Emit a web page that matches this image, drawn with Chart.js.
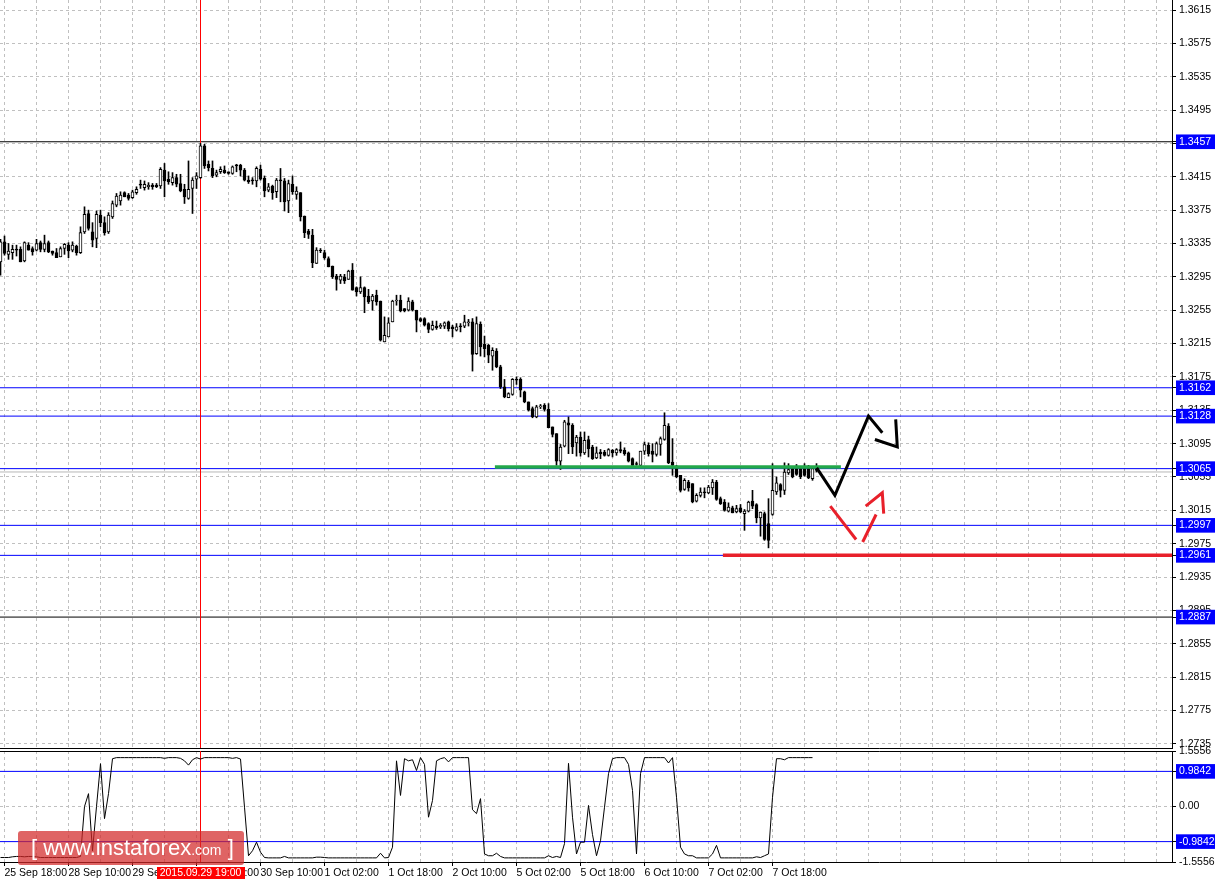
<!DOCTYPE html>
<html><head><meta charset="utf-8">
<script src="https://cdn.jsdelivr.net/npm/chart.js@4.4.0/dist/chart.umd.min.js"></script>
<style>
html,body{margin:0;padding:0;background:#fff;width:1215px;height:881px;overflow:hidden;position:relative}
canvas{position:absolute;left:0}
#main{top:0}
#ind{top:740px}
#wm{position:absolute;left:18px;top:831px;width:226px;height:34px;background:rgba(210,40,40,0.72);border-radius:3px;color:#fff;font-family:"Liberation Sans",Arial,sans-serif;white-space:nowrap;line-height:34px;padding-left:13px;box-sizing:border-box;font-size:22px}
#wm .c{font-size:14px}
</style></head><body>
<canvas id="main" width="1215" height="750"></canvas>
<canvas id="ind" width="1215" height="141"></canvas>
<div id="wm">[ www.instaforex<span class="c">.com</span> ]</div>
<script>
// ---- data (hourly candles; first candle is hour -1 relative to 25 Sep 18:00) ----
const startHour = -1;
const opens = [
1.3313,1.3337,1.3322,1.3324,1.3327,1.3328,1.3314,1.3333,1.3329,1.3327,
1.3336,1.3328,1.3336,1.3326,1.3324,1.3319,1.3329,1.3333,1.3327,1.3332,
1.3324,1.3349,1.3371,1.3349,1.3341,1.3369,1.3360,1.3349,1.3367,1.3381,
1.3386,1.3396,1.3393,1.3390,1.3396,1.3406,1.3402,1.3403,1.3405,1.3405,
1.3404,1.3423,1.3412,1.3408,1.3414,1.3407,1.3400,1.3389,1.3401,1.3412,
1.3414,1.3452,1.3430,1.3425,1.3417,1.3421,1.3423,1.3421,1.3419,1.3428,
1.3429,1.3423,1.3411,1.3410,1.3410,1.3424,1.3413,1.3399,1.3404,1.3397,
1.3410,1.3410,1.3386,1.3406,1.3394,1.3396,1.3368,1.3350,1.3345,1.3311,
1.3327,1.3324,1.3317,1.3308,1.3296,1.3291,1.3295,1.3292,1.3303,1.3282,
1.3277,1.3282,1.3272,1.3266,1.3273,1.3266,1.3217,1.3223,1.3241,1.3266,
1.3267,1.3257,1.3255,1.3265,1.3255,1.3245,1.3245,1.3239,1.3232,1.3236,
1.3235,1.3236,1.3241,1.3235,1.3231,1.3236,1.3236,1.3240,1.3241,1.3203,
1.3238,1.3214,1.3213,1.3200,1.3206,1.3187,1.3163,1.3150,1.3154,1.3171,
1.3172,1.3157,1.3145,1.3137,1.3127,1.3139,1.3141,1.3136,1.3115,1.3107,
1.3074,1.3092,1.3120,1.3117,1.3096,1.3103,1.3084,1.3100,1.3091,1.3078,
1.3085,1.3085,1.3081,1.3087,1.3084,1.3088,1.3087,1.3084,1.3077,1.3071,
1.3069,1.3086,1.3093,1.3086,1.3082,1.3094,1.3100,1.3116,1.3073,1.3065,
1.3057,1.3040,1.3049,1.3047,1.3026,1.3033,1.3037,1.3036,1.3042,1.3049,
1.3029,1.3025,1.3014,1.3018,1.3013,1.3018,1.3011,1.3014,1.3026,1.3022,
1.3006,1.3011,1.2999,1.3010,1.3037,1.3046,1.3039,1.3060,1.3065,1.3065,
1.3065,1.3065,1.3065,1.3053,1.3065];
const highs = [
1.3340,1.3344,1.3335,1.3333,1.3333,1.3331,1.3337,1.3336,1.3331,1.3340,
1.3338,1.3345,1.3338,1.3326,1.3329,1.3331,1.3335,1.3336,1.3337,1.3333,
1.3355,1.3379,1.3375,1.3360,1.3374,1.3375,1.3367,1.3372,1.3386,1.3395,
1.3397,1.3397,1.3395,1.3399,1.3403,1.3411,1.3410,1.3408,1.3407,1.3407,
1.3426,1.3431,1.3421,1.3420,1.3418,1.3418,1.3406,1.3434,1.3414,1.3420,
1.3455,1.3454,1.3434,1.3434,1.3423,1.3427,1.3428,1.3421,1.3428,1.3430,
1.3430,1.3425,1.3416,1.3414,1.3427,1.3429,1.3416,1.3407,1.3405,1.3413,
1.3425,1.3413,1.3411,1.3416,1.3403,1.3396,1.3368,1.3352,1.3352,1.3330,
1.3329,1.3327,1.3319,1.3308,1.3298,1.3298,1.3298,1.3303,1.3311,1.3283,
1.3295,1.3283,1.3280,1.3274,1.3279,1.3266,1.3247,1.3246,1.3267,1.3273,
1.3273,1.3257,1.3270,1.3267,1.3255,1.3246,1.3246,1.3240,1.3242,1.3242,
1.3239,1.3241,1.3242,1.3237,1.3239,1.3239,1.3249,1.3244,1.3245,1.3247,
1.3241,1.3224,1.3214,1.3210,1.3209,1.3189,1.3172,1.3156,1.3173,1.3175,
1.3174,1.3158,1.3145,1.3139,1.3141,1.3142,1.3143,1.3143,1.3115,1.3107,
1.3094,1.3123,1.3127,1.3119,1.3105,1.3109,1.3109,1.3104,1.3093,1.3091,
1.3088,1.3087,1.3089,1.3088,1.3089,1.3097,1.3090,1.3085,1.3078,1.3073,
1.3086,1.3097,1.3096,1.3095,1.3097,1.3103,1.3132,1.3119,1.3101,1.3069,
1.3057,1.3053,1.3051,1.3047,1.3035,1.3042,1.3042,1.3045,1.3052,1.3051,
1.3031,1.3028,1.3024,1.3020,1.3021,1.3022,1.3016,1.3026,1.3039,1.3023,
1.3013,1.3013,1.3029,1.3071,1.3055,1.3047,1.3072,1.3071,1.3067,1.3070,
1.3067,1.3071,1.3069,1.3067,1.3071];
const lows = [
1.3297,1.3321,1.3316,1.3316,1.3320,1.3313,1.3313,1.3327,1.3321,1.3326,
1.3325,1.3325,1.3324,1.3321,1.3318,1.3319,1.3322,1.3318,1.3325,1.3321,
1.3323,1.3347,1.3351,1.3331,1.3330,1.3355,1.3345,1.3347,1.3365,1.3379,
1.3381,1.3391,1.3387,1.3389,1.3394,1.3401,1.3399,1.3400,1.3400,1.3402,
1.3401,1.3391,1.3406,1.3405,1.3403,1.3397,1.3383,1.3388,1.3371,1.3401,
1.3413,1.3425,1.3422,1.3414,1.3415,1.3419,1.3419,1.3418,1.3418,1.3421,
1.3416,1.3410,1.3407,1.3406,1.3403,1.3411,1.3391,1.3397,1.3388,1.3390,
1.3385,1.3374,1.3372,1.3394,1.3388,1.3362,1.3342,1.3341,1.3306,1.3311,
1.3324,1.3316,1.3307,1.3293,1.3279,1.3287,1.3287,1.3292,1.3279,1.3272,
1.3275,1.3252,1.3263,1.3255,1.3261,1.3218,1.3217,1.3223,1.3241,1.3261,
1.3253,1.3253,1.3254,1.3254,1.3229,1.3241,1.3236,1.3228,1.3231,1.3232,
1.3233,1.3233,1.3230,1.3223,1.3230,1.3229,1.3234,1.3236,1.3182,1.3202,
1.3200,1.3199,1.3192,1.3183,1.3186,1.3161,1.3150,1.3150,1.3153,1.3166,
1.3151,1.3144,1.3134,1.3126,1.3126,1.3137,1.3134,1.3114,1.3103,1.3069,
1.3064,1.3091,1.3083,1.3083,1.3080,1.3080,1.3082,1.3079,1.3076,1.3077,
1.3077,1.3080,1.3080,1.3079,1.3081,1.3084,1.3081,1.3073,1.3069,1.3069,
1.3068,1.3082,1.3080,1.3073,1.3080,1.3081,1.3099,1.3071,1.3057,1.3054,
1.3037,1.3039,1.3038,1.3024,1.3025,1.3031,1.3030,1.3035,1.3034,1.3027,
1.3022,1.3014,1.3013,1.3012,1.3012,1.3012,1.2991,1.3013,1.3017,1.3000,
1.2984,1.2979,1.2970,1.3009,1.3034,1.3031,1.3034,1.3058,1.3054,1.3057,
1.3053,1.3056,1.3053,1.3051,1.3061];
const closes = [
1.3337,1.3323,1.3326,1.3328,1.3327,1.3313,1.3336,1.3327,1.3325,1.3335,
1.3328,1.3335,1.3325,1.3323,1.3318,1.3329,1.3334,1.3326,1.3333,1.3324,
1.3348,1.3370,1.3353,1.3339,1.3370,1.3360,1.3348,1.3369,1.3383,1.3392,
1.3393,1.3391,1.3389,1.3397,1.3400,1.3405,1.3406,1.3405,1.3403,1.3403,
1.3424,1.3410,1.3409,1.3414,1.3406,1.3398,1.3391,1.3400,1.3411,1.3416,
1.3452,1.3428,1.3426,1.3416,1.3420,1.3424,1.3420,1.3419,1.3427,1.3428,
1.3423,1.3411,1.3409,1.3410,1.3425,1.3412,1.3398,1.3403,1.3396,1.3411,
1.3410,1.3385,1.3407,1.3397,1.3398,1.3367,1.3348,1.3346,1.3312,1.3327,
1.3326,1.3318,1.3307,1.3295,1.3292,1.3296,1.3290,1.3302,1.3279,1.3277,
1.3282,1.3271,1.3265,1.3272,1.3265,1.3219,1.3225,1.3240,1.3266,1.3267,
1.3254,1.3254,1.3266,1.3255,1.3243,1.3242,1.3237,1.3232,1.3237,1.3234,
1.3237,1.3240,1.3233,1.3233,1.3235,1.3235,1.3241,1.3241,1.3202,1.3239,
1.3211,1.3209,1.3201,1.3207,1.3187,1.3163,1.3151,1.3155,1.3172,1.3171,
1.3159,1.3145,1.3135,1.3127,1.3139,1.3140,1.3136,1.3114,1.3106,1.3074,
1.3091,1.3121,1.3117,1.3091,1.3103,1.3084,1.3099,1.3089,1.3077,1.3084,
1.3083,1.3081,1.3088,1.3084,1.3088,1.3086,1.3083,1.3074,1.3069,1.3070,
1.3086,1.3094,1.3083,1.3082,1.3095,1.3101,1.3117,1.3072,1.3069,1.3055,
1.3039,1.3051,1.3042,1.3025,1.3033,1.3037,1.3036,1.3043,1.3049,1.3028,
1.3023,1.3015,1.3019,1.3012,1.3017,1.3013,1.3014,1.3025,1.3020,1.3006,
1.3013,1.2980,1.2979,1.3039,1.3048,1.3039,1.3061,1.3064,1.3055,1.3058,
1.3055,1.3057,1.3054,1.3065,1.3063];
const indicator = [
-1.43,-1.43,-1.43,-1.41,-1.40,-1.40,-1.41,-1.40,-1.40,-1.41,
-1.43,-1.43,-1.43,-1.43,-1.43,-1.43,-1.43,-1.43,-1.43,-1.43,
-1.40,0.00,0.36,-1.24,0.00,1.20,-0.34,0.36,1.34,1.37,
1.37,1.37,1.37,1.37,1.37,1.37,1.37,1.37,1.37,1.37,
1.37,1.35,1.37,1.37,1.37,1.35,1.28,1.16,1.31,1.37,
1.33,1.37,1.37,1.37,1.37,1.37,1.37,1.37,1.35,1.37,
1.33,-0.02,-1.38,-1.24,-1.00,-1.28,-1.43,-1.44,-1.44,-1.44,
-1.44,-1.40,-1.44,-1.44,-1.44,-1.44,-1.44,-1.44,-1.44,-1.42,
-1.42,-1.43,-1.44,-1.44,-1.44,-1.44,-1.44,-1.44,-1.44,-1.44,
-1.44,-1.44,-1.44,-1.44,-1.44,-1.31,-1.44,-1.43,-1.14,1.28,
0.31,1.34,1.28,1.31,1.01,1.37,1.18,-0.30,0.17,1.28,
1.34,1.37,1.25,1.37,1.37,1.37,1.37,1.37,-0.09,-0.20,
0.22,-1.33,-1.38,-1.38,-1.31,-1.40,-1.44,-1.44,-1.44,-1.44,
-1.44,-1.44,-1.44,-1.44,-1.44,-1.44,-1.44,-1.38,-1.43,-1.40,
-1.43,-1.04,1.21,-0.30,-1.33,-1.00,-1.00,0.03,-0.79,-1.38,
-0.96,-0.02,0.92,1.34,1.37,1.37,1.37,1.18,0.45,-1.33,
0.92,1.37,1.37,1.37,1.37,1.37,1.37,1.22,1.37,0.26,
-1.14,-1.33,-1.38,-1.38,-1.44,-1.44,-1.44,-1.44,-1.33,-1.09,
-1.44,-1.44,-1.44,-1.44,-1.44,-1.44,-1.44,-1.44,-1.44,-1.41,
-1.43,-1.38,-1.33,0.26,1.34,1.34,1.31,1.37,1.37,1.37,
1.37,1.37,1.37,1.37];

const timeLabels = ['25 Sep 18:00','28 Sep 10:00','29 Sep 02:00','29 Sep 18:00','30 Sep 10:00','1 Oct 02:00','1 Oct 18:00','2 Oct 10:00','5 Oct 02:00','5 Oct 18:00','6 Oct 10:00','7 Oct 02:00','7 Oct 18:00'];
const priceTickLabels = ['1.3615','1.3575','1.3535','1.3495','1.3455','1.3415','1.3375','1.3335','1.3295','1.3255','1.3215','1.3175','1.3135','1.3095','1.3055','1.3015','1.2975','1.2935','1.2895','1.2855','1.2815','1.2775','1.2735'];
const levelLabels = ['1.3457','1.3162','1.3128','1.3065','1.2997','1.2961','1.2887'];
const levelKinds = ['black','blue','blue','blue','blue','blue','black'];
const bidPrice = 1.3061;
const indTickLabels = ['1.5556','0.00','-1.5556'];
const indLevelLabels = ['0.9842','-0.9842'];
const markerHour = 49;
const markerLabel = '2015.09.29 19:00';
// drawn analysis marks (hour, price)
const supportHours = [122.6, 209.1];
const supportPrices = [1.3067, 1.3067];
const redLevelHours = [179.6, 292];
const redLevelPrices = [1.2961, 1.2961];
const blackPathHours = [203.05, 207.6, 216.0, 219.45];
const blackPathPrices = [1.3066, 1.3033, 1.3128, 1.3108];
const blackHookHours = [217.6, 223.2, 222.8];
const blackHookPrices = [1.3100, 1.3091, 1.3124];
const redPath1Hours = [206.45, 212.9];
const redPath1Prices = [1.3020, 1.2980];
const redPath2Hours = [214.55, 217.9];
const redPath2Prices = [1.2977, 1.3010];
const redHookHours = [215.3, 219.45, 219.8];
const redHookPrices = [1.3020, 1.3036, 1.3011];

// ---- layout / style ----
const X_MIN = -1.125, X_MAX = 291.875, GRID_STEP = 8;
const PRICE_MIN = 1.2730, PRICE_MAX = 1.3627;
const IND_MIN = -1.5556, IND_MAX = 1.5556;
const AXIS_W = 43;
const FONT = { family: '"Liberation Sans Narrow","Liberation Sans",Arial,sans-serif', size: 10.5 };
const GRID_COLOR = '#c0c0c0';
const KIND_COLOR = { black: '#000000', blue: '#0000ff' };

function zeroPad(s){ s.paddingTop = 0; s.paddingBottom = 0; s.paddingLeft = 0; s.paddingRight = 0; }
function timeTicks(scale){
  const t = [];
  for (let v = 0; v <= X_MAX; v += GRID_STEP) {
    const k = v / GRID_STEP;
    const lbl = (k % 2 === 0 && timeLabels[k / 2]) ? timeLabels[k / 2] : '';
    t.push({ value: v, lbl });
  }
  scale.ticks = t;
}
const seg = (hs, ps) => hs.map((h, i) => ({ x: h, y: ps[i] }));
const hline = (p) => [{ x: X_MIN, y: p }, { x: X_MAX, y: p }];
const isLvl = c => !!(c.tick && c.tick.level);

const hours = opens.map((_, i) => startHour + i);
const wickData = hours.map((h, i) => ({ x: h, y: [lows[i], highs[i]] }));
const bodyData = hours.map((h, i) => ({ x: h, y: [opens[i], closes[i]] }));
const bodyFill = hours.map((_, i) => closes[i] > opens[i] ? '#ffffff' : '#000000');

const lineDs = (data, color, width, order) => ({ type: 'line', data, borderColor: color, borderWidth: width, pointRadius: 0, fill: false, order, xAxisID: 'x', yAxisID: 'y', tension: 0 });

const mainDatasets = [
  { type: 'bar', data: bodyData, backgroundColor: bodyFill, borderColor: '#000', borderWidth: 1, borderSkipped: false, grouped: false, barThickness: 3, maxBarThickness: 3, minBarLength: 1, order: 2 },
  { type: 'bar', data: wickData, backgroundColor: '#000', borderWidth: 0, grouped: false, barThickness: 1, maxBarThickness: 1, order: 3 },
  ...levelLabels.map((l, i) => lineDs(hline(parseFloat(l)), KIND_COLOR[levelKinds[i]], 1, 6)),
  lineDs(hline(bidPrice), '#b8b8b8', 1, 7),
  lineDs([{ x: markerHour, y: PRICE_MIN }, { x: markerHour, y: PRICE_MAX }], '#ff0000', 1, 5),
  lineDs(seg(supportHours, supportPrices), '#22a84a', 3.5, 1),
  lineDs(seg(redLevelHours, redLevelPrices), '#e8202a', 3.5, 1),
  lineDs(seg(blackPathHours, blackPathPrices), '#000000', 3, 0),
  lineDs(seg(blackHookHours, blackHookPrices), '#000000', 3, 0),
  lineDs(seg(redPath1Hours, redPath1Prices), '#e8202a', 3, 0),
  lineDs(seg(redPath2Hours, redPath2Prices), '#e8202a', 3, 0),
  lineDs(seg(redHookHours, redHookPrices), '#e8202a', 3, 0)
];

const yTickOpts = {
  autoSkip: false, font: FONT, padding: 3,
  color: c => isLvl(c) ? '#ffffff' : '#000000',
  showLabelBackdrop: c => isLvl(c),
  backdropColor: '#0000ff',
  backdropPadding: { top: 1, bottom: 1, left: 3, right: 4 },
  callback: (v, i, t) => t[i].lbl
};

new Chart(document.getElementById('main'), {
  type: 'bar',
  data: { datasets: mainDatasets },
  options: {
    responsive: false, animation: false, events: [],
    layout: { padding: 0 },
    plugins: { legend: { display: false }, tooltip: { enabled: false } },
    scales: {
      x: {
        type: 'linear', min: X_MIN, max: X_MAX, offset: false,
        afterBuildTicks: timeTicks,
        ticks: { display: false, autoSkip: false },
        grid: { color: GRID_COLOR, drawTicks: false, offset: false },
        border: { display: true, color: '#000', dash: [3, 3] },
        afterFit: s => { zeroPad(s); s.height = 2; }
      },
      y: {
        type: 'linear', position: 'right', min: PRICE_MIN, max: PRICE_MAX,
        afterBuildTicks: s => {
          const t = priceTickLabels.map(l => ({ value: parseFloat(l), lbl: l, level: false }));
          levelLabels.forEach(l => t.push({ value: parseFloat(l), lbl: l, level: true }));
          s.ticks = t;
        },
        ticks: yTickOpts,
        grid: { color: c => isLvl(c) ? 'rgba(0,0,0,0)' : GRID_COLOR, tickLength: 4, tickColor: '#000' },
        border: { display: true, color: '#000', dash: [3, 3] },
        afterFit: s => { zeroPad(s); s.width = AXIS_W; }
      }
    }
  }
});

const markerLabelPlugin = {
  id: 'markerLabel',
  afterDraw(chart) {
    const s = chart.scales.x, ctx = chart.ctx;
    const px = s.getPixelForValue(markerHour);
    ctx.save();
    ctx.font = `${FONT.size}px ${FONT.family}`;
    const w = Math.round(ctx.measureText(markerLabel).width + 6);
    ctx.fillStyle = '#ff0000';
    ctx.fillRect(Math.round(px - w / 2), s.top + 5, w, 12);
    ctx.fillStyle = '#ffffff';
    ctx.textAlign = 'center'; ctx.textBaseline = 'middle';
    ctx.fillText(markerLabel, px, s.top + 11.5);
    ctx.restore();
  }
};

new Chart(document.getElementById('ind'), {
  type: 'line',
  data: { datasets: [
    lineDs(indicator.map((v, i) => ({ x: startHour + i, y: v })), '#000000', 1, 0),
    ...indLevelLabels.map(l => lineDs(hline(parseFloat(l)), '#0000ff', 1, 3)),
    lineDs([{ x: markerHour, y: IND_MIN }, { x: markerHour, y: IND_MAX }], '#ff0000', 1, 2)
  ] },
  options: {
    responsive: false, animation: false, events: [],
    layout: { padding: { top: 11, left: 0, right: 0, bottom: 0 } },
    plugins: { legend: { display: false }, tooltip: { enabled: false } },
    scales: {
      x: {
        type: 'linear', position: 'bottom', min: X_MIN, max: X_MAX, offset: false,
        afterBuildTicks: timeTicks,
        ticks: { autoSkip: false, maxRotation: 0, minRotation: 0, align: 'start', font: FONT, color: '#000', padding: 1, callback: (v, i, t) => t[i].lbl },
        grid: { color: GRID_COLOR, tickLength: 4, tickColor: c => (c.tick && c.tick.lbl) ? '#000' : 'rgba(0,0,0,0)' },
        border: { display: true, color: '#000', dash: [3, 3] },
        afterFit: s => { zeroPad(s); s.height = 19; }
      },
      x2: {
        type: 'linear', position: 'top', min: X_MIN, max: X_MAX, offset: false,
        ticks: { display: false },
        grid: { drawOnChartArea: false, drawTicks: false },
        border: { display: true, color: '#000' },
        afterFit: s => { zeroPad(s); s.height = 0; }
      },
      y: {
        type: 'linear', position: 'right', min: IND_MIN, max: IND_MAX,
        afterBuildTicks: s => {
          const t = indTickLabels.map(l => ({ value: parseFloat(l), lbl: l, level: false }));
          indLevelLabels.forEach(l => t.push({ value: parseFloat(l), lbl: l, level: true }));
          s.ticks = t;
        },
        ticks: yTickOpts,
        grid: { color: c => (c.tick && !c.tick.level && c.tick.value === 0) ? GRID_COLOR : 'rgba(0,0,0,0)', tickLength: 4, tickColor: '#000' },
        border: { display: true, color: '#000', dash: [3, 3] },
        afterFit: s => { zeroPad(s); s.width = AXIS_W; }
      }
    }
  },
  plugins: [markerLabelPlugin]
});
</script>
</body></html>
